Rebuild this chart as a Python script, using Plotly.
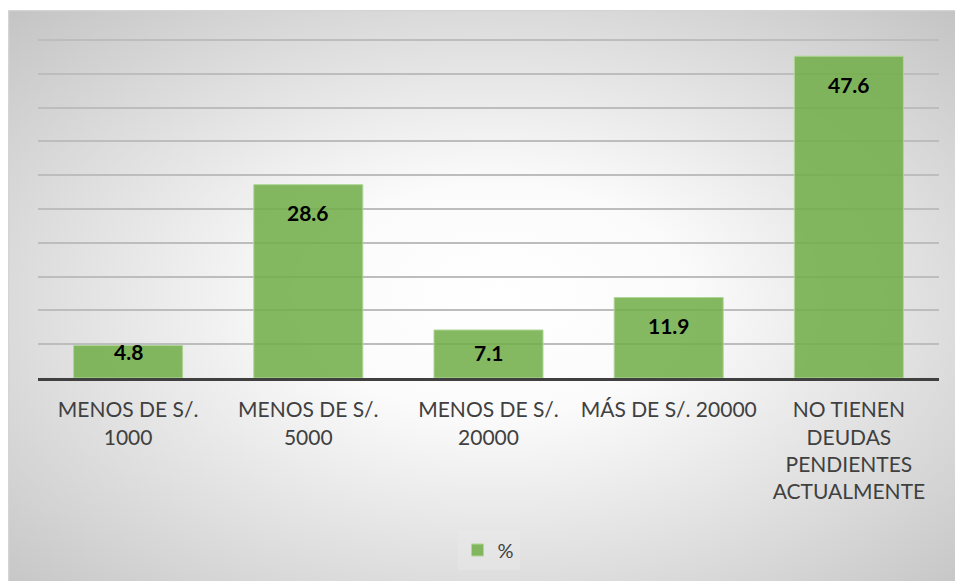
import plotly.graph_objects as go
from urllib.parse import quote

# Survey data: outstanding debt amount
categories = [
    "MENOS DE S/.<br>1000",
    "MENOS DE S/.<br>5000",
    "MENOS DE S/.<br>20000",
    "MÁS DE S/. 20000",
    "NO TIENEN<br>DEUDAS<br>PENDIENTES<br>ACTUALMENTE",
]
values = [4.8, 28.6, 7.1, 11.9, 47.6]
series_name = "%"

# Layout geometry
W, H = 955, 581
M_L, M_R, M_T, M_B = 38, 16, 39, 203
Y_MAX = 50.15  # a hair above 50 so the top gridline is drawn
plot_w = W - M_L - M_R
plot_h = H - M_T - M_B
px_per_unit = plot_h / Y_MAX

FONT = "Lato, Carlito, 'Open Sans', sans-serif"
BAR_FILL = "rgba(112,173,71,0.86)"
BAR_EDGE = "rgba(175,214,150,1)"

# Chart-area background: soft radial gradient with thin border
box_x0, box_y0 = 8, 10
box_w, box_h = W - box_x0 + 2, H - box_y0 + 2
svg = f"""<svg xmlns='http://www.w3.org/2000/svg' width='{box_w}' height='{box_h}' viewBox='0 0 {box_w} {box_h}' preserveAspectRatio='none'>
<defs><radialGradient id='g' cx='0.5' cy='0.52' r='0.72' fx='0.52' fy='0.5'>
<stop offset='0' stop-color='#ffffff'/>
<stop offset='0.28' stop-color='#fbfbfb'/>
<stop offset='1' stop-color='#c4c4c4'/>
</radialGradient></defs>
<rect x='0.5' y='0.5' width='{box_w - 1}' height='{box_h - 1}' fill='url(#g)' stroke='#d4d4d4' stroke-width='1.5'/>
</svg>"""
bg_src = "data:image/svg+xml;charset=utf-8," + quote(svg)

fig = go.Figure()
fig.add_trace(go.Bar(
    x=categories,
    y=values,
    name=series_name,
    marker=dict(color=BAR_FILL, line=dict(color=BAR_EDGE, width=1)),
    showlegend=True,
    hoverinfo="x+y",
))

# Value labels placed just inside the top of each bar
annotations = []
for cat, v in zip(categories, values):
    h_px = v * px_per_unit
    offset = min(28, h_px - 26)
    annotations.append(dict(
        x=cat, y=v, xref="x", yref="y",
        text=f"<b>{v:.1f}</b>",
        showarrow=False,
        yanchor="middle",
        yshift=-offset,
        font=dict(family=FONT, size=21, color="#000000"),
    ))

fig.update_layout(
    width=W, height=H,
    margin=dict(l=M_L, r=M_R, t=M_T, b=M_B, pad=0),
    paper_bgcolor="#ffffff",
    plot_bgcolor="rgba(0,0,0,0)",
    bargap=0.395,
    font=dict(family=FONT, color="#404040"),
    images=[dict(
        source=bg_src,
        xref="paper", yref="paper",
        x=(box_x0 - M_L) / plot_w,
        y=(H - M_B - box_y0) / plot_h,
        sizex=box_w / plot_w,
        sizey=box_h / plot_h,
        xanchor="left", yanchor="top",
        sizing="stretch",
        layer="below",
    )],
    annotations=annotations,
    legend=dict(
        orientation="h",
        x=0.5, xanchor="center",
        y=(H - M_B - 550) / plot_h, yanchor="middle",
        font=dict(family=FONT, size=20, color="#404040"),
        bgcolor="rgba(236,236,236,0.35)",
        itemwidth=30,
    ),
    xaxis=dict(
        showline=True, linecolor="#404040", linewidth=3,
        showgrid=False,
        ticks="outside", ticklen=11, tickcolor="rgba(0,0,0,0)",
        tickfont=dict(family=FONT, size=21, color="#404040"),
        fixedrange=True,
    ),
    yaxis=dict(
        range=[0, Y_MAX], dtick=5,
        showgrid=True, gridcolor="#bdbdbd", gridwidth=1.5,
        zeroline=False, showticklabels=False, showline=False,
        fixedrange=True,
    ),
)

fig.write_html("out.html")
